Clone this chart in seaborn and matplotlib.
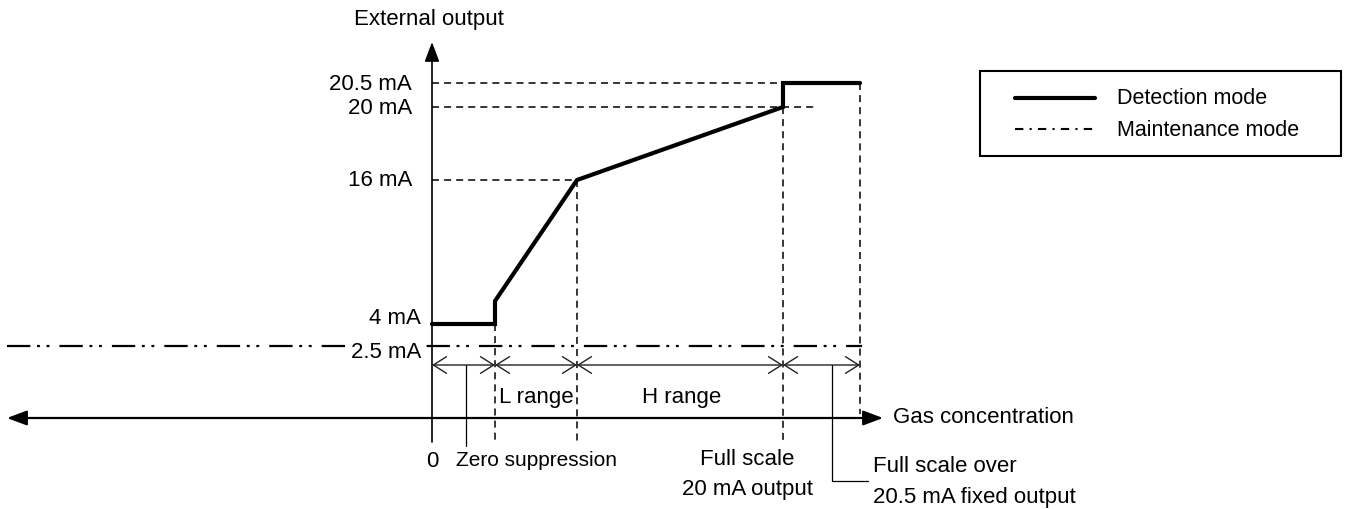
import pandas as pd
import seaborn as sns
import matplotlib.pyplot as plt
from matplotlib.patches import Rectangle

sns.set_style('white')
plt.rcParams['font.family'] = ['Liberation Sans', 'DejaVu Sans']
plt.rcParams['text.color'] = 'black'

# schematic units: x = gas concentration, y = output level height above the x axis
level_labels = ['2.5 mA', '4 mA', '16 mA', '20 mA', '20.5 mA']
level_pos = [72, 94, 238, 311, 335]
conc_marks = [0, 63, 145, 351, 428]  # 0, zero suppression, L end, full scale, over end

# detection mode curve
det_conc = [0, 63, 63, 145, 351, 351, 428]
det_out = [94, 94, 117, 238, 311, 335, 335]
# maintenance mode (fixed 2.5 mA)
mnt_conc = [-425, 430]
mnt_out = [72, 72]

range_labels = ['L range', 'H range']

detection = pd.DataFrame({'conc': det_conc, 'out': det_out})
maintenance = pd.DataFrame({'conc': mnt_conc, 'out': mnt_out})

fig = plt.figure(figsize=(13.49, 5.10), dpi=100)
ax = fig.add_axes([0, 0, 1, 1])
ax.set_xlim(-432, 917)
ax.set_ylim(-91, 419)
ax.axis('off')

dash = (0, (4.6, 3.3))
dash_dot_dot = (0, (10.5, 3, 1.3, 3, 1.3, 4.5))

# guide lines
lv = dict(zip(level_labels, level_pos))
ax.plot([0, conc_marks[4]], [lv['20.5 mA']] * 2, color='black', lw=1.1, ls=dash)
ax.plot([0, 386], [lv['20 mA']] * 2, color='black', lw=1.1, ls=dash)
ax.plot([0, conc_marks[2]], [lv['16 mA']] * 2, color='black', lw=1.1, ls=dash)
ax.plot([conc_marks[1]] * 2, [lv['4 mA'], -24], color='black', lw=1.1, ls=dash)
ax.plot([conc_marks[2]] * 2, [lv['16 mA'], -26], color='black', lw=1.1, ls=dash)
ax.plot([conc_marks[3]] * 2, [lv['20 mA'], -26], color='black', lw=1.1, ls=dash)
ax.plot([conc_marks[4]] * 2, [lv['20.5 mA'], 4], color='black', lw=1.1, ls=dash)

# lines
sns.lineplot(data=maintenance, x='conc', y='out', sort=False, estimator=None,
             color='black', lw=1.6, ls=dash_dot_dot, ax=ax)
sns.lineplot(data=detection, x='conc', y='out', sort=False, estimator=None,
             color='black', lw=3, ax=ax)
ax.lines[-1].set_solid_joinstyle('miter')

# axes arrows
ax.annotate('', xy=(451, 0), xytext=(-425, 0),
            arrowprops=dict(arrowstyle='<|-|>,head_length=1.2,head_width=0.45',
                            color='black', lw=1.6, shrinkA=0, shrinkB=0, mutation_scale=10))
ax.annotate('', xy=(0, 376), xytext=(0, -24),
            arrowprops=dict(arrowstyle='-|>,head_length=1.2,head_width=0.45',
                            color='black', lw=1.2, shrinkA=0, shrinkB=0, mutation_scale=10))

# dimension arrows
for a, b in zip(conc_marks[:-1], conc_marks[1:]):
    ax.annotate('', xy=(b, 53), xytext=(a, 53),
                arrowprops=dict(arrowstyle='<->,head_length=0.95,head_width=0.6',
                                color='#222222', lw=1.0, shrinkA=0, shrinkB=0, mutation_scale=10))

# leaders
ax.plot([34, 34], [53, -28], color='black', lw=0.9)
ax.plot([400, 400, 436], [53, -63, -63], color='black', lw=0.9)

# texts
fs = 16
ax.text(-3, 399, 'External output', ha='center', va='center', fontsize=fs)
for lab, y in zip(level_labels, level_pos):
    if lab == '2.5 mA':
        ax.text(-11, y - 5, lab, ha='right', va='center', fontsize=fs, zorder=5,
                bbox=dict(boxstyle='square,pad=0.15', fc='white', ec='none'))
    elif lab == '4 mA':
        ax.text(-11, y + 6, lab, ha='right', va='center', fontsize=fs)
    else:
        ax.text(-20, y, lab, ha='right', va='center', fontsize=fs)
ax.text(0, -43, '0', ha='center', va='center', fontsize=fs)
ax.text(24, -42, 'Zero suppression', ha='left', va='center', fontsize=15)
ax.text(104, 21, range_labels[0], ha='center', va='center', fontsize=fs)
ax.text(250, 21, range_labels[1], ha='center', va='center', fontsize=fs)
ax.text(315, -41, 'Full scale', ha='center', va='center', fontsize=fs)
ax.text(315, -71, '20 mA output', ha='center', va='center', fontsize=fs)
ax.text(461, 1, 'Gas concentration', ha='left', va='center', fontsize=fs)
ax.text(441, -48, 'Full scale over', ha='left', va='center', fontsize=fs)
ax.text(441, -79, '20.5 mA fixed output', ha='left', va='center', fontsize=fs)

# legend
ax.add_patch(Rectangle((548, 262), 361, 85, fill=False, edgecolor='black', lw=1.5))
ax.plot([583, 663], [320, 320], color='black', lw=3)
ax.plot([583, 663], [289, 289], color='black', lw=1.5, ls=(0, (4, 3, 1, 3)))
ax.text(685, 320, 'Detection mode', ha='left', va='center', fontsize=15.5)
ax.text(685, 289, 'Maintenance mode', ha='left', va='center', fontsize=15.5)

plt.savefig('out.png', dpi=100)
